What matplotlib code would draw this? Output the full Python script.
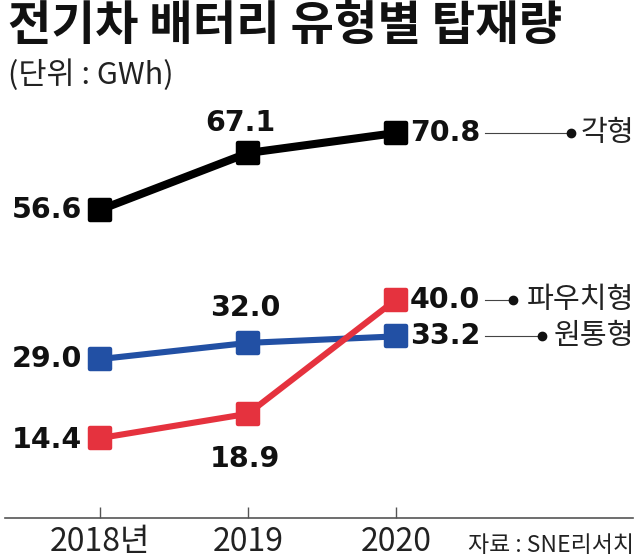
import matplotlib
matplotlib.use("Agg")
import matplotlib.pyplot as plt
import matplotlib.transforms as mtransforms
from matplotlib.markers import MarkerStyle

plt.rcParams['font.family'] = ['Noto Sans CJK KR', 'DejaVu Sans']

## ## data
years = [2018, 2019, 2020]
year_labels = ["2018년", "2019", "2020"]
series_names = ["각형", "파우치형", "원통형"]
prismatic = [56.6, 67.1, 70.8]
pouch = [14.4, 18.9, 40.0]
cylindrical = [29.0, 32.0, 33.2]

## ## styles
W, H = 640, 559
colors = {"각형": "#000000", "파우치형": "#e5323e", "원통형": "#2250a4"}
widths = {"각형": 5.8, "파우치형": 4.4, "원통형": 4.4}
# label offsets in px for each point: (dx, dy, ha)
offsets = {
    "각형": [(-18, 0, "right"), (-8, 30, "center"), (14, 0, "left")],
    "파우치형": [(-18, -2, "right"), (-3, -45, "center"), (14, 0, "left")],
    "원통형": [(-18, 0, "right"), (-3, 35, "center"), (14, 0, "left")],
}
dot_x = {"각형": 571, "파우치형": 513, "원통형": 542}
px = 0.72  # points per pixel at dpi 100

fig = plt.figure(figsize=(W / 100, H / 100), dpi=100)
fig.patch.set_facecolor("white")
ax = fig.add_axes([5 / W, (H - 518) / H, 628 / W, 418 / H])

# px scale: 148 px per year (2018 at x=100), 5.41 px per GWh (0 at y=516)
ax.set_xlim(2018 - 95 / 148, 2018 + 533 / 148)
ax.set_ylim((516 - 518) / 5.41, (516 - 100) / 5.41)

data = {"각형": prismatic, "파우치형": pouch, "원통형": cylindrical}
for name in ["원통형", "각형", "파우치형"]:
    vals = data[name]
    ax.plot(years, vals, color=colors[name], lw=widths[name],
            marker=MarkerStyle("s", joinstyle="round"),
            markersize=14, markeredgewidth=3.2, markeredgecolor=colors[name],
            solid_joinstyle="round", solid_capstyle="round", zorder=3)
    for (x, v), (dx, dy, ha) in zip(zip(years, vals), offsets[name]):
        ax.annotate("%.1f" % v, (x, v), xytext=(dx * px, dy * px),
                    textcoords="offset points", ha=ha, va="center",
                    fontsize=20.5, fontweight="bold", color="#111111",
                    family="DejaVu Sans")

# legend connectors
trans = mtransforms.blended_transform_factory(fig.transFigure, ax.transData)
for name in series_names:
    y = data[name][-1]
    x0 = 485 / W
    x1 = dot_x[name] / W
    ax.plot([x0, x1], [y, y], color="#444444", lw=0.8, transform=trans, clip_on=False)
    ax.plot([x1], [y], "o", color="#111111", markersize=6, transform=trans, clip_on=False)
    ax.text(634 / W, y, name, transform=trans, ha="right", va="center",
            fontsize=21, color="#222222")

# axis
for s in ["top", "left", "right"]:
    ax.spines[s].set_visible(False)
ax.spines["bottom"].set_color("#555555")
ax.spines["bottom"].set_linewidth(1.2)
ax.set_yticks([])
ax.set_xticks(years)
ax.set_xticklabels(year_labels, fontsize=23, color="#222222")
ax.tick_params(axis="x", direction="in", length=8, width=1, color="#555555", pad=6)

fig.text(634 / W, 1 - 545 / H, "자료 : SNE리서치", ha="right", va="center",
         fontsize=16.5, color="#222222")

## ## title
fig.text(8 / W, 1 - 26 / H, "전기차 배터리 유형별 탑재량", ha="left", va="center",
         fontsize=34, fontweight="black", color="#111111")
fig.text(8 / W, 1 - 75 / H, "(단위 : GWh)", ha="left", va="center",
         fontsize=22, color="#222222")

fig.savefig("out.png", dpi=100, facecolor="white")
